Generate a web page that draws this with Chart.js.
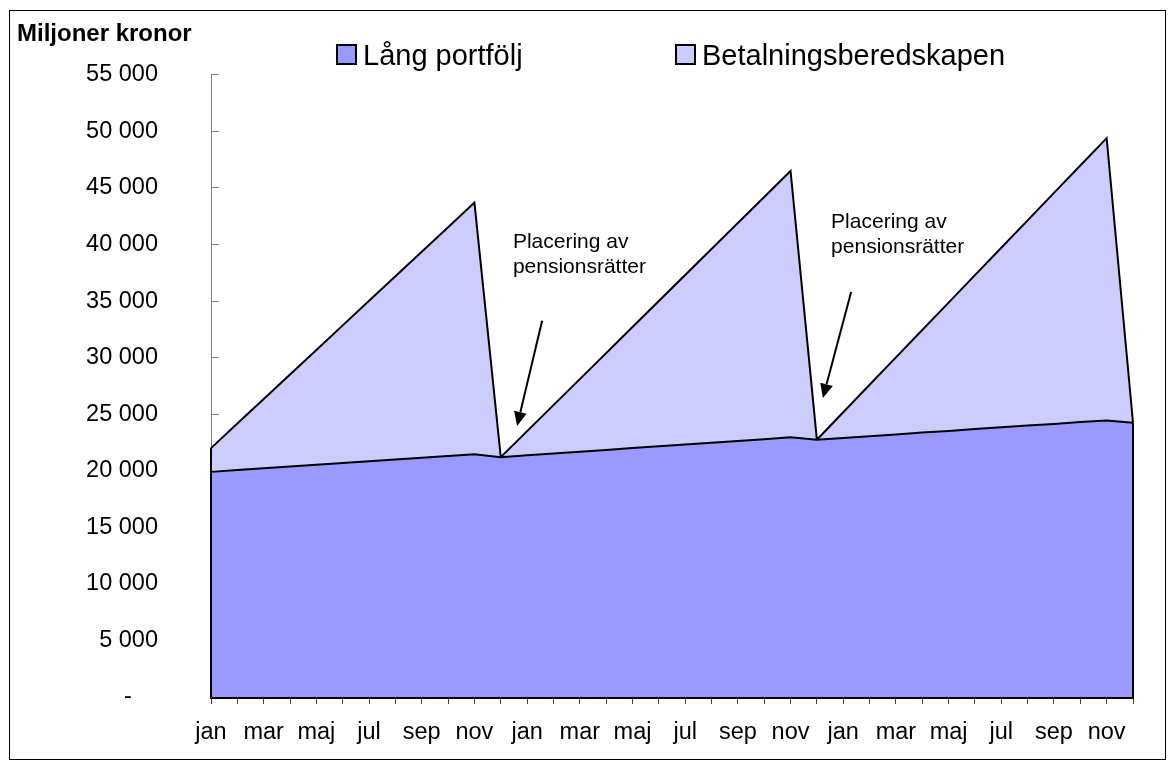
<!DOCTYPE html>
<html>
<head>
<meta charset="utf-8">
<script src="https://cdn.jsdelivr.net/npm/chart.js@4.4.0/dist/chart.umd.min.js"></script>
<style>
html,body{margin:0;padding:0;background:#fff;}
#wrap{width:1174px;height:767px;position:relative;}
canvas{display:block;}
</style>
</head>
<body>
<div id="wrap"><canvas id="c" width="1174" height="767"></canvas></div>
<script>
// ---- data ----
const months = [
  'jan','feb','mar','apr','maj','jun','jul','aug','sep','okt','nov','dec',
  'jan','feb','mar','apr','maj','jun','jul','aug','sep','okt','nov','dec',
  'jan','feb','mar','apr','maj','jun','jul','aug','sep','okt','nov','dec'
];
const langPortfolj = [
  19900, 20060, 20210, 20370, 20520, 20680, 20840, 20990, 21150, 21300, 21460, 21200,
  21360, 21520, 21680, 21840, 22000, 22160, 22310, 22470, 22630, 22790, 22950, 22750,
  22900, 23060, 23210, 23370, 23520, 23680, 23840, 23990, 24140, 24300, 24450, 24250
];
const betalningsberedskapen = [
  2100, 4110, 6130, 8140, 10160, 12170, 14180, 16200, 18210, 20230, 22240, 0,
  2140, 4280, 6420, 8560, 10700, 12840, 14990, 17130, 19270, 21410, 23550, 0,
  2270, 4540, 6810, 9070, 11340, 13610, 15870, 18140, 20420, 22680, 24950, 0
];
const seriesNames = ['Lång portfölj', 'Betalningsberedskapen'];
const seriesColors = ['#9999FF', '#CCCCFF'];
const yAxisTitle = 'Miljoner kronor';
const annotationText = ['Placering av', 'pensionsrätter'];
// annotation anchors in data units (category index, value)
const annotationAnchors = [
  {textAt: [11.46, 39700], from: [12.57, 33250], to: [11.62, 23960]},
  {textAt: [23.54, 41470], from: [24.30, 35810], to: [23.23, 26440]}
];

Chart.defaults.font.family = "'Liberation Sans', Arial, Helvetica, sans-serif";
Chart.defaults.color = '#000';

function fmtThousands(v) {
  if (v === 0) return '-    ';
  return String(v).replace(/\B(?=(\d{3})+(?!\d))/g, ' ');
}

const customLegend = {
  id: 'customLegend',
  afterDraw(chart) {
    const ctx = chart.ctx;
    const xs = [337, 676];
    ctx.save();
    ctx.font = "29px 'Liberation Sans', Arial, sans-serif";
    ctx.textBaseline = 'alphabetic';
    ctx.textAlign = 'left';
    chart.data.datasets.forEach((ds, i) => {
      const x = xs[i];
      ctx.fillStyle = ds.backgroundColor;
      ctx.fillRect(x, 45, 19, 19);
      ctx.lineWidth = 2;
      ctx.strokeStyle = '#000';
      ctx.strokeRect(x, 45, 19, 19);
      ctx.fillStyle = '#000';
      ctx.fillText(ds.label, x + 26, 65);
    });
    ctx.restore();
  }
};

const edgesAndNotes = {
  id: 'edgesAndNotes',
  afterDatasetsDraw(chart) {
    const ctx = chart.ctx;
    const xs = chart.scales.x, ys = chart.scales.y;
    const n = langPortfolj.length;
    ctx.save();
    ctx.strokeStyle = '#000';
    ctx.lineWidth = 2;
    [0, n - 1].forEach(i => {
      const x = xs.getPixelForValue(i);
      const top = langPortfolj[i] + betalningsberedskapen[i];
      ctx.beginPath();
      ctx.moveTo(x, ys.getPixelForValue(0));
      ctx.lineTo(x, ys.getPixelForValue(top));
      ctx.stroke();
    });
    ctx.font = "21px 'Liberation Sans', Arial, sans-serif";
    ctx.fillStyle = '#000';
    ctx.textAlign = 'left';
    ctx.textBaseline = 'alphabetic';
    annotationAnchors.forEach(a => {
      const tx = xs.getPixelForValue(a.textAt[0]);
      const ty = ys.getPixelForValue(a.textAt[1]);
      annotationText.forEach((t, k) => ctx.fillText(t, tx, ty + k * 25));
      const x1 = xs.getPixelForValue(a.from[0]), y1 = ys.getPixelForValue(a.from[1]);
      const x2 = xs.getPixelForValue(a.to[0]), y2 = ys.getPixelForValue(a.to[1]);
      const ang = Math.atan2(y2 - y1, x2 - x1);
      const hl = 14, hw = 6.5;
      const bx = x2 - hl * Math.cos(ang), by = y2 - hl * Math.sin(ang);
      ctx.lineWidth = 2;
      ctx.beginPath();
      ctx.moveTo(x1, y1);
      ctx.lineTo(bx, by);
      ctx.stroke();
      ctx.beginPath();
      ctx.moveTo(x2, y2);
      ctx.lineTo(bx + hw * Math.sin(ang), by - hw * Math.cos(ang));
      ctx.lineTo(bx - hw * Math.sin(ang), by + hw * Math.cos(ang));
      ctx.closePath();
      ctx.fill();
    });
    ctx.restore();
  },
  afterDraw(chart) {
    const ctx = chart.ctx;
    ctx.save();
    ctx.strokeStyle = '#000';
    ctx.lineWidth = 1;
    ctx.strokeRect(9.5, 10.5, 1156, 749);
    ctx.restore();
  }
};

new Chart(document.getElementById('c'), {
  type: 'line',
  data: {
    labels: months,
    datasets: [
      {
        label: seriesNames[0],
        data: langPortfolj,
        backgroundColor: seriesColors[0],
        borderColor: '#000',
        borderWidth: 2,
        fill: 'origin',
        pointRadius: 0,
        tension: 0
      },
      {
        label: seriesNames[1],
        data: betalningsberedskapen,
        backgroundColor: seriesColors[1],
        borderColor: '#000',
        borderWidth: 2,
        fill: '-1',
        pointRadius: 0,
        tension: 0
      }
    ]
  },
  options: {
    responsive: false,
    animation: false,
    devicePixelRatio: 1,
    layout: {padding: {left: 17, right: 41, top: 0, bottom: 0}},
    plugins: {
      legend: {display: false},
      tooltip: {enabled: false},
      title: {
        display: true,
        text: yAxisTitle,
        align: 'start',
        color: '#000',
        font: {size: 24, weight: 'bold'},
        padding: {top: 20, bottom: 26}
      }
    },
    scales: {
      x: {
        type: 'category',
        offset: false,
        grid: {drawOnChartArea: false, color: '#404040', tickLength: 7, lineWidth: 1},
        border: {color: '#000', width: 3},
        ticks: {
          autoSkip: false, maxRotation: 0, minRotation: 0, padding: 14,
          color: '#000', font: {size: 23.5},
          callback: (v, i) => (i % 2 === 0 ? months[i] : '')
        },
        afterFit: s => { s.height = 70; }
      },
      y: {
        stacked: true,
        min: 0, max: 55000,
        grid: {drawOnChartArea: false, color: '#808080', tickLength: -8, lineWidth: 1},
        border: {color: '#808080', width: 1},
        ticks: {
          stepSize: 5000, padding: 61, color: '#000', font: {size: 23.5},
          callback: v => fmtThousands(v)
        },
        afterFit: s => { s.width = 194; s.paddingTop = 14; s.paddingBottom = 14; }
      }
    }
  },
  plugins: [customLegend, edgesAndNotes]
});
</script>
</body>
</html>
